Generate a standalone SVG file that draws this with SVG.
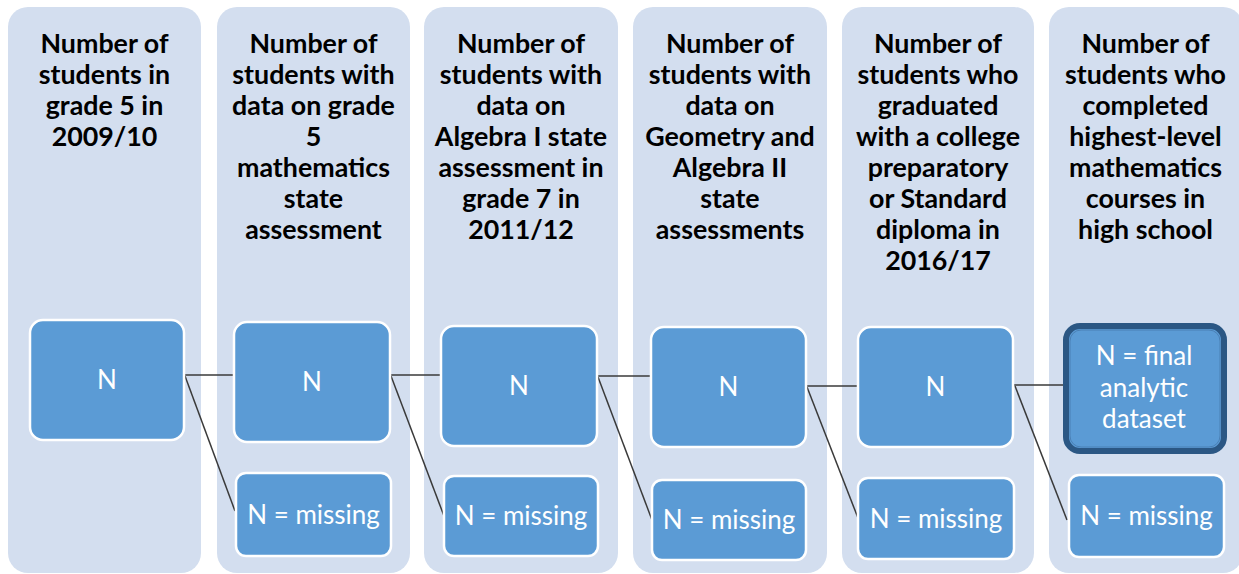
<svg xmlns="http://www.w3.org/2000/svg" width="1239" height="574" viewBox="0 0 1239 574">
<style>
.col{fill:#D3DEEF}
.hdr{font-family:Lato,"Liberation Sans",sans-serif;font-weight:bold;font-size:26.8px;fill:#000;text-anchor:middle}
.box{fill:#5B9BD5;stroke:#FFFFFF;stroke-width:2.5}
.fin{fill:#5B9BD5;stroke:#2B5784;stroke-width:6}
.lbl{font-family:Lato,"Liberation Sans",sans-serif;font-size:26px;fill:#FFFFFF;text-anchor:middle}
.con{stroke:#3A3A3A;stroke-width:1.5;fill:none}
</style>
<rect width="1239" height="574" fill="#FFFFFF"/>
<g id="col1">
<rect class="col" x="8" y="7" width="193" height="566" rx="20"/>
<text class="hdr" x="104.5" y="53">Number of</text>
<text class="hdr" x="104.5" y="84">students in</text>
<text class="hdr" x="104.5" y="115">grade 5 in</text>
<text class="hdr" x="104.5" y="146">2009/10</text>
</g>
<g id="col2">
<rect class="col" x="217" y="7" width="193" height="566" rx="20"/>
<text class="hdr" x="313.5" y="53">Number of</text>
<text class="hdr" x="313.5" y="84">students with</text>
<text class="hdr" x="313.5" y="115">data on grade</text>
<text class="hdr" x="313.5" y="146">5</text>
<text class="hdr" x="313.5" y="177">mathematics</text>
<text class="hdr" x="313.5" y="208">state</text>
<text class="hdr" x="313.5" y="239">assessment</text>
</g>
<g id="col3">
<rect class="col" x="424" y="7" width="194" height="566" rx="20"/>
<text class="hdr" x="521" y="53">Number of</text>
<text class="hdr" x="521" y="84">students with</text>
<text class="hdr" x="521" y="115">data on</text>
<text class="hdr" x="521" y="146">Algebra I state</text>
<text class="hdr" x="521" y="177">assessment in</text>
<text class="hdr" x="521" y="208">grade 7 in</text>
<text class="hdr" x="521" y="239">2011/12</text>
</g>
<g id="col4">
<rect class="col" x="633" y="7" width="194" height="566" rx="20"/>
<text class="hdr" x="730" y="53">Number of</text>
<text class="hdr" x="730" y="84">students with</text>
<text class="hdr" x="730" y="115">data on</text>
<text class="hdr" x="730" y="146">Geometry and</text>
<text class="hdr" x="730" y="177">Algebra II</text>
<text class="hdr" x="730" y="208">state</text>
<text class="hdr" x="730" y="239">assessments</text>
</g>
<g id="col5">
<rect class="col" x="842" y="7" width="192" height="566" rx="20"/>
<text class="hdr" x="938" y="53">Number of</text>
<text class="hdr" x="938" y="84">students who</text>
<text class="hdr" x="938" y="115">graduated</text>
<text class="hdr" x="938" y="146">with a college</text>
<text class="hdr" x="938" y="177">preparatory</text>
<text class="hdr" x="938" y="208">or Standard</text>
<text class="hdr" x="938" y="239">diploma in</text>
<text class="hdr" x="938" y="270">2016/17</text>
</g>
<g id="col6">
<rect class="col" x="1049" y="7" width="194" height="566" rx="20"/>
<text class="hdr" x="1145.5" y="53">Number of</text>
<text class="hdr" x="1145.5" y="84">students who</text>
<text class="hdr" x="1145.5" y="115">completed</text>
<text class="hdr" x="1145.5" y="146">highest-level</text>
<text class="hdr" x="1145.5" y="177">mathematics</text>
<text class="hdr" x="1145.5" y="208">courses in</text>
<text class="hdr" x="1145.5" y="239">high school</text>
</g>
<g id="connectors">
<line class="con" x1="184" y1="375" x2="234" y2="375"/>
<line class="con" x1="185" y1="376" x2="235" y2="511"/>
<line class="con" x1="390" y1="375" x2="441" y2="375"/>
<line class="con" x1="391" y1="376" x2="444" y2="516"/>
<line class="con" x1="597" y1="376" x2="651" y2="376"/>
<line class="con" x1="598" y1="377" x2="652" y2="520"/>
<line class="con" x1="806" y1="386" x2="858" y2="386"/>
<line class="con" x1="807" y1="387" x2="858" y2="518"/>
<line class="con" x1="1013" y1="385" x2="1065" y2="385"/>
<line class="con" x1="1015" y1="386" x2="1067" y2="520"/>
</g>
<g id="n1">
<rect class="box" x="30" y="320" width="154" height="120" rx="13"/>
<text class="lbl" x="107" y="389">N</text>
</g>
<g id="n2">
<rect class="box" x="234" y="322" width="156" height="120" rx="13"/>
<text class="lbl" x="312" y="391">N</text>
</g>
<g id="m2">
<rect class="box" x="236" y="473" width="155" height="83" rx="10"/>
<text class="lbl" x="313.5" y="524">N = missing</text>
</g>
<g id="n3">
<rect class="box" x="441" y="326" width="156" height="120" rx="13"/>
<text class="lbl" x="519" y="395">N</text>
</g>
<g id="m3">
<rect class="box" x="444" y="476" width="154" height="80" rx="10"/>
<text class="lbl" x="521" y="525">N = missing</text>
</g>
<g id="n4">
<rect class="box" x="651" y="327" width="155" height="120" rx="13"/>
<text class="lbl" x="728.5" y="396">N</text>
</g>
<g id="m4">
<rect class="box" x="652" y="480" width="154" height="80" rx="10"/>
<text class="lbl" x="729" y="529">N = missing</text>
</g>
<g id="n5">
<rect class="box" x="858" y="327" width="155" height="120" rx="13"/>
<text class="lbl" x="935.5" y="396">N</text>
</g>
<g id="m5">
<rect class="box" x="858" y="478" width="156" height="81" rx="10"/>
<text class="lbl" x="936" y="528">N = missing</text>
</g>
<g id="final">
<rect class="fin" x="1066" y="326" width="158" height="125" rx="14"/>
<rect x="1070" y="330" width="150" height="117" rx="11" fill="none" stroke="#4A80B5" stroke-width="1"/>
<text class="lbl" x="1144" y="365">N = final</text>
<text class="lbl" x="1144" y="397">analytic</text>
<text class="lbl" x="1144" y="428">dataset</text>
</g>
<g id="m6">
<rect class="box" x="1069" y="475" width="155" height="82" rx="10"/>
<text class="lbl" x="1146.5" y="525">N = missing</text>
</g>
</svg>
